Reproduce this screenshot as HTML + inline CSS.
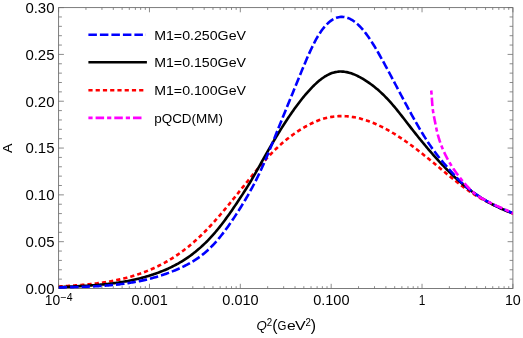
<!DOCTYPE html>
<html><head><meta charset="utf-8"><title>plot</title>
<style>html,body{margin:0;padding:0;background:#fff;}svg{display:block;will-change:transform;}</style>
</head><body>
<svg width="523" height="338" viewBox="0 0 523 338">
<rect width="523" height="338" fill="#fff"/>
<defs><clipPath id="c"><rect x="58.60" y="7.60" width="454.30" height="282.90"/></clipPath></defs>
<path d="M58.60 288.50h5.30M512.90 288.50h-5.30M58.60 279.14h3.30M512.90 279.14h-3.30M58.60 269.77h3.30M512.90 269.77h-3.30M58.60 260.41h3.30M512.90 260.41h-3.30M58.60 251.05h3.30M512.90 251.05h-3.30M58.60 241.68h5.30M512.90 241.68h-5.30M58.60 232.32h3.30M512.90 232.32h-3.30M58.60 222.96h3.30M512.90 222.96h-3.30M58.60 213.59h3.30M512.90 213.59h-3.30M58.60 204.23h3.30M512.90 204.23h-3.30M58.60 194.87h5.30M512.90 194.87h-5.30M58.60 185.50h3.30M512.90 185.50h-3.30M58.60 176.14h3.30M512.90 176.14h-3.30M58.60 166.78h3.30M512.90 166.78h-3.30M58.60 157.41h3.30M512.90 157.41h-3.30M58.60 148.05h5.30M512.90 148.05h-5.30M58.60 138.69h3.30M512.90 138.69h-3.30M58.60 129.32h3.30M512.90 129.32h-3.30M58.60 119.96h3.30M512.90 119.96h-3.30M58.60 110.60h3.30M512.90 110.60h-3.30M58.60 101.23h5.30M512.90 101.23h-5.30M58.60 91.87h3.30M512.90 91.87h-3.30M58.60 82.51h3.30M512.90 82.51h-3.30M58.60 73.14h3.30M512.90 73.14h-3.30M58.60 63.78h3.30M512.90 63.78h-3.30M58.60 54.42h5.30M512.90 54.42h-5.30M58.60 45.05h3.30M512.90 45.05h-3.30M58.60 35.69h3.30M512.90 35.69h-3.30M58.60 26.33h3.30M512.90 26.33h-3.30M58.60 16.96h3.30M512.90 16.96h-3.30M58.60 7.60h5.30M512.90 7.60h-5.30M58.60 288.50v-4.70M58.60 7.60v4.70M85.95 288.50v-2.30M85.95 7.60v2.30M101.95 288.50v-2.30M101.95 7.60v2.30M113.30 288.50v-2.30M113.30 7.60v2.30M122.11 288.50v-2.30M122.11 7.60v2.30M129.30 288.50v-2.30M129.30 7.60v2.30M135.39 288.50v-2.30M135.39 7.60v2.30M140.65 288.50v-2.30M140.65 7.60v2.30M145.30 288.50v-2.30M145.30 7.60v2.30M149.46 288.50v-4.70M149.46 7.60v4.70M176.81 288.50v-2.30M176.81 7.60v2.30M192.81 288.50v-2.30M192.81 7.60v2.30M204.16 288.50v-2.30M204.16 7.60v2.30M212.97 288.50v-2.30M212.97 7.60v2.30M220.16 288.50v-2.30M220.16 7.60v2.30M226.25 288.50v-2.30M226.25 7.60v2.30M231.51 288.50v-2.30M231.51 7.60v2.30M236.16 288.50v-2.30M236.16 7.60v2.30M240.32 288.50v-4.70M240.32 7.60v4.70M267.67 288.50v-2.30M267.67 7.60v2.30M283.67 288.50v-2.30M283.67 7.60v2.30M295.02 288.50v-2.30M295.02 7.60v2.30M303.83 288.50v-2.30M303.83 7.60v2.30M311.02 288.50v-2.30M311.02 7.60v2.30M317.11 288.50v-2.30M317.11 7.60v2.30M322.37 288.50v-2.30M322.37 7.60v2.30M327.02 288.50v-2.30M327.02 7.60v2.30M331.18 288.50v-4.70M331.18 7.60v4.70M358.53 288.50v-2.30M358.53 7.60v2.30M374.53 288.50v-2.30M374.53 7.60v2.30M385.88 288.50v-2.30M385.88 7.60v2.30M394.69 288.50v-2.30M394.69 7.60v2.30M401.88 288.50v-2.30M401.88 7.60v2.30M407.97 288.50v-2.30M407.97 7.60v2.30M413.23 288.50v-2.30M413.23 7.60v2.30M417.88 288.50v-2.30M417.88 7.60v2.30M422.04 288.50v-4.70M422.04 7.60v4.70M449.39 288.50v-2.30M449.39 7.60v2.30M465.39 288.50v-2.30M465.39 7.60v2.30M476.74 288.50v-2.30M476.74 7.60v2.30M485.55 288.50v-2.30M485.55 7.60v2.30M492.74 288.50v-2.30M492.74 7.60v2.30M498.83 288.50v-2.30M498.83 7.60v2.30M504.09 288.50v-2.30M504.09 7.60v2.30M508.74 288.50v-2.30M508.74 7.60v2.30M512.90 288.50v-4.70M512.90 7.60v4.70" stroke="#6e6e6e" stroke-width="0.8" fill="none"/>
<rect x="58.60" y="7.60" width="454.30" height="280.90" fill="none" stroke="#6e6e6e" stroke-width="0.9"/>
<g clip-path="url(#c)" fill="none" stroke-width="2.60">
<path d="M58.60 286.57 L59.74 286.50 L60.88 286.42 L62.02 286.35 L63.15 286.28 L64.29 286.21 L65.43 286.13 L66.57 286.06 L67.71 285.98 L68.85 285.91 L69.99 285.83 L71.12 285.75 L72.26 285.67 L73.40 285.59 L74.54 285.50 L75.68 285.42 L76.82 285.33 L77.96 285.24 L79.09 285.15 L80.23 285.06 L81.37 284.96 L82.51 284.87 L83.65 284.77 L84.79 284.66 L85.93 284.55 L87.06 284.45 L88.20 284.33 L89.34 284.22 L90.48 284.10 L91.62 283.97 L92.76 283.85 L93.90 283.72 L95.04 283.58 L96.17 283.44 L97.31 283.30 L98.45 283.15 L99.59 283.00 L100.73 282.85 L101.87 282.68 L103.01 282.52 L104.14 282.35 L105.28 282.17 L106.42 281.99 L107.56 281.80 L108.70 281.61 L109.84 281.42 L110.98 281.21 L112.11 281.00 L113.25 280.79 L114.39 280.57 L115.53 280.34 L116.67 280.10 L117.81 279.86 L118.95 279.62 L120.08 279.36 L121.22 279.10 L122.36 278.83 L123.50 278.56 L124.64 278.28 L125.78 277.99 L126.92 277.69 L128.05 277.38 L129.19 277.07 L130.33 276.75 L131.47 276.42 L132.61 276.08 L133.75 275.74 L134.89 275.38 L136.02 275.02 L137.16 274.65 L138.30 274.27 L139.44 273.88 L140.58 273.48 L141.72 273.07 L142.86 272.66 L143.99 272.23 L145.13 271.80 L146.27 271.35 L147.41 270.89 L148.55 270.43 L149.69 269.95 L150.83 269.47 L151.96 268.97 L153.10 268.46 L154.24 267.95 L155.38 267.42 L156.52 266.88 L157.66 266.33 L158.80 265.76 L159.94 265.19 L161.07 264.61 L162.21 264.01 L163.35 263.40 L164.49 262.78 L165.63 262.14 L166.77 261.50 L167.91 260.84 L169.04 260.17 L170.18 259.48 L171.32 258.79 L172.46 258.08 L173.60 257.35 L174.74 256.62 L175.88 255.86 L177.01 255.10 L178.15 254.32 L179.29 253.53 L180.43 252.72 L181.57 251.90 L182.71 251.06 L183.85 250.21 L184.98 249.34 L186.12 248.46 L187.26 247.56 L188.40 246.65 L189.54 245.72 L190.68 244.78 L191.82 243.82 L192.95 242.84 L194.09 241.85 L195.23 240.84 L196.37 239.82 L197.51 238.77 L198.65 237.72 L199.79 236.64 L200.92 235.55 L202.06 234.44 L203.20 233.31 L204.34 232.17 L205.48 231.02 L206.62 229.84 L207.76 228.66 L208.89 227.46 L210.03 226.24 L211.17 225.02 L212.31 223.78 L213.45 222.52 L214.59 221.26 L215.73 219.98 L216.86 218.69 L218.00 217.39 L219.14 216.08 L220.28 214.76 L221.42 213.43 L222.56 212.09 L223.70 210.74 L224.84 209.38 L225.97 208.01 L227.11 206.63 L228.25 205.25 L229.39 203.86 L230.53 202.47 L231.67 201.07 L232.81 199.66 L233.94 198.25 L235.08 196.83 L236.22 195.42 L237.36 194.00 L238.50 192.57 L239.64 191.15 L240.78 189.72 L241.91 188.30 L243.05 186.87 L244.19 185.45 L245.33 184.03 L246.47 182.61 L247.61 181.19 L248.75 179.77 L249.88 178.36 L251.02 176.95 L252.16 175.55 L253.30 174.16 L254.44 172.77 L255.58 171.38 L256.72 170.01 L257.85 168.64 L258.99 167.29 L260.13 165.95 L261.27 164.62 L262.41 163.30 L263.55 161.99 L264.69 160.71 L265.82 159.43 L266.96 158.18 L268.10 156.94 L269.24 155.72 L270.38 154.52 L271.52 153.34 L272.66 152.18 L273.79 151.04 L274.93 149.91 L276.07 148.81 L277.21 147.73 L278.35 146.66 L279.49 145.62 L280.63 144.59 L281.76 143.59 L282.90 142.60 L284.04 141.63 L285.18 140.68 L286.32 139.74 L287.46 138.83 L288.60 137.93 L289.74 137.05 L290.87 136.19 L292.01 135.35 L293.15 134.52 L294.29 133.71 L295.43 132.92 L296.57 132.14 L297.71 131.38 L298.84 130.63 L299.98 129.91 L301.12 129.19 L302.26 128.50 L303.40 127.82 L304.54 127.15 L305.68 126.50 L306.81 125.87 L307.95 125.25 L309.09 124.65 L310.23 124.07 L311.37 123.51 L312.51 122.96 L313.65 122.43 L314.78 121.93 L315.92 121.44 L317.06 120.97 L318.20 120.52 L319.34 120.09 L320.48 119.69 L321.62 119.30 L322.75 118.94 L323.89 118.60 L325.03 118.28 L326.17 117.99 L327.31 117.72 L328.45 117.47 L329.59 117.24 L330.72 117.03 L331.86 116.84 L333.00 116.68 L334.14 116.54 L335.28 116.41 L336.42 116.31 L337.56 116.23 L338.69 116.17 L339.83 116.13 L340.97 116.11 L342.11 116.10 L343.25 116.12 L344.39 116.16 L345.53 116.21 L346.66 116.29 L347.80 116.38 L348.94 116.50 L350.08 116.63 L351.22 116.78 L352.36 116.94 L353.50 117.13 L354.64 117.33 L355.77 117.55 L356.91 117.78 L358.05 118.04 L359.19 118.31 L360.33 118.59 L361.47 118.90 L362.61 119.22 L363.74 119.55 L364.88 119.90 L366.02 120.27 L367.16 120.65 L368.30 121.05 L369.44 121.46 L370.58 121.89 L371.71 122.33 L372.85 122.79 L373.99 123.26 L375.13 123.74 L376.27 124.24 L377.41 124.76 L378.55 125.28 L379.68 125.82 L380.82 126.37 L381.96 126.94 L383.10 127.52 L384.24 128.11 L385.38 128.71 L386.52 129.32 L387.65 129.95 L388.79 130.59 L389.93 131.24 L391.07 131.90 L392.21 132.57 L393.35 133.26 L394.49 133.95 L395.62 134.66 L396.76 135.37 L397.90 136.10 L399.04 136.83 L400.18 137.58 L401.32 138.33 L402.46 139.10 L403.59 139.87 L404.73 140.65 L405.87 141.45 L407.01 142.25 L408.15 143.05 L409.29 143.87 L410.43 144.70 L411.56 145.53 L412.70 146.37 L413.84 147.22 L414.98 148.07 L416.12 148.94 L417.26 149.80 L418.40 150.68 L419.54 151.56 L420.67 152.45 L421.81 153.35 L422.95 154.25 L424.09 155.16 L425.23 156.07 L426.37 156.99 L427.51 157.91 L428.64 158.84 L429.78 159.77 L430.92 160.70 L432.06 161.64 L433.20 162.58 L434.34 163.52 L435.48 164.47 L436.61 165.42 L437.75 166.36 L438.89 167.31 L440.03 168.26 L441.17 169.20 L442.31 170.15 L443.45 171.10 L444.58 172.04 L445.72 172.98 L446.86 173.92 L448.00 174.85 L449.14 175.78 L450.28 176.71 L451.42 177.63 L452.55 178.55 L453.69 179.46 L454.83 180.37 L455.97 181.26 L457.11 182.16 L458.25 183.04 L459.39 183.92 L460.52 184.79 L461.66 185.65 L462.80 186.50 L463.94 187.34 L465.08 188.17 L466.22 188.99 L467.36 189.80 L468.49 190.60 L469.63 191.39 L470.77 192.16 L471.91 192.92 L473.05 193.67 L474.19 194.41 L475.33 195.13 L476.46 195.83 L477.60 196.53 L478.74 197.20 L479.88 197.87 L481.02 198.52 L482.16 199.16 L483.30 199.79 L484.44 200.41 L485.57 201.02 L486.71 201.62 L487.85 202.21 L488.99 202.79 L490.13 203.36 L491.27 203.92 L492.41 204.48 L493.54 205.03 L494.68 205.57 L495.82 206.10 L496.96 206.63 L498.10 207.15 L499.24 207.67 L500.38 208.19 L501.51 208.70 L502.65 209.21 L503.79 209.71 L504.93 210.21 L506.07 210.71 L507.21 211.21 L508.35 211.71 L509.48 212.21 L510.62 212.71 L511.76 213.20 L512.90 213.70" stroke="#f00" stroke-dasharray="4.2 3.05"/>
<path d="M58.60 287.21 L59.74 287.15 L60.88 287.09 L62.02 287.03 L63.15 286.97 L64.29 286.92 L65.43 286.86 L66.57 286.80 L67.71 286.74 L68.85 286.69 L69.99 286.63 L71.12 286.58 L72.26 286.52 L73.40 286.46 L74.54 286.40 L75.68 286.34 L76.82 286.29 L77.96 286.23 L79.09 286.16 L80.23 286.10 L81.37 286.04 L82.51 285.97 L83.65 285.91 L84.79 285.84 L85.93 285.77 L87.06 285.70 L88.20 285.63 L89.34 285.55 L90.48 285.48 L91.62 285.40 L92.76 285.31 L93.90 285.23 L95.04 285.14 L96.17 285.05 L97.31 284.96 L98.45 284.87 L99.59 284.77 L100.73 284.67 L101.87 284.56 L103.01 284.45 L104.14 284.34 L105.28 284.22 L106.42 284.11 L107.56 283.98 L108.70 283.85 L109.84 283.72 L110.98 283.59 L112.11 283.45 L113.25 283.30 L114.39 283.15 L115.53 283.00 L116.67 282.84 L117.81 282.67 L118.95 282.51 L120.08 282.33 L121.22 282.15 L122.36 281.97 L123.50 281.78 L124.64 281.58 L125.78 281.38 L126.92 281.17 L128.05 280.95 L129.19 280.73 L130.33 280.51 L131.47 280.27 L132.61 280.03 L133.75 279.79 L134.89 279.53 L136.02 279.27 L137.16 279.01 L138.30 278.73 L139.44 278.45 L140.58 278.16 L141.72 277.87 L142.86 277.56 L143.99 277.25 L145.13 276.93 L146.27 276.61 L147.41 276.27 L148.55 275.93 L149.69 275.58 L150.83 275.22 L151.96 274.85 L153.10 274.47 L154.24 274.08 L155.38 273.69 L156.52 273.28 L157.66 272.87 L158.80 272.45 L159.94 272.02 L161.07 271.57 L162.21 271.12 L163.35 270.66 L164.49 270.19 L165.63 269.70 L166.77 269.20 L167.91 268.70 L169.04 268.17 L170.18 267.64 L171.32 267.09 L172.46 266.53 L173.60 265.96 L174.74 265.37 L175.88 264.77 L177.01 264.15 L178.15 263.52 L179.29 262.87 L180.43 262.20 L181.57 261.52 L182.71 260.82 L183.85 260.11 L184.98 259.38 L186.12 258.63 L187.26 257.86 L188.40 257.07 L189.54 256.27 L190.68 255.44 L191.82 254.60 L192.95 253.74 L194.09 252.85 L195.23 251.95 L196.37 251.02 L197.51 250.08 L198.65 249.11 L199.79 248.12 L200.92 247.11 L202.06 246.07 L203.20 245.01 L204.34 243.93 L205.48 242.82 L206.62 241.70 L207.76 240.54 L208.89 239.36 L210.03 238.16 L211.17 236.93 L212.31 235.67 L213.45 234.39 L214.59 233.08 L215.73 231.75 L216.86 230.38 L218.00 229.00 L219.14 227.58 L220.28 226.15 L221.42 224.69 L222.56 223.20 L223.70 221.70 L224.84 220.17 L225.97 218.63 L227.11 217.06 L228.25 215.48 L229.39 213.88 L230.53 212.26 L231.67 210.63 L232.81 208.98 L233.94 207.32 L235.08 205.64 L236.22 203.95 L237.36 202.25 L238.50 200.54 L239.64 198.82 L240.78 197.08 L241.91 195.34 L243.05 193.59 L244.19 191.83 L245.33 190.05 L246.47 188.25 L247.61 186.43 L248.75 184.59 L249.88 182.72 L251.02 180.83 L252.16 178.91 L253.30 176.95 L254.44 174.97 L255.58 172.96 L256.72 170.94 L257.85 168.90 L258.99 166.85 L260.13 164.80 L261.27 162.75 L262.41 160.71 L263.55 158.68 L264.69 156.66 L265.82 154.65 L266.96 152.65 L268.10 150.66 L269.24 148.68 L270.38 146.72 L271.52 144.77 L272.66 142.83 L273.79 140.90 L274.93 138.99 L276.07 137.09 L277.21 135.21 L278.35 133.35 L279.49 131.50 L280.63 129.66 L281.76 127.85 L282.90 126.05 L284.04 124.27 L285.18 122.50 L286.32 120.76 L287.46 119.03 L288.60 117.33 L289.74 115.64 L290.87 113.98 L292.01 112.33 L293.15 110.71 L294.29 109.11 L295.43 107.53 L296.57 105.98 L297.71 104.45 L298.84 102.94 L299.98 101.46 L301.12 100.00 L302.26 98.56 L303.40 97.16 L304.54 95.77 L305.68 94.42 L306.81 93.09 L307.95 91.79 L309.09 90.52 L310.23 89.28 L311.37 88.07 L312.51 86.90 L313.65 85.76 L314.78 84.65 L315.92 83.58 L317.06 82.55 L318.20 81.55 L319.34 80.60 L320.48 79.69 L321.62 78.82 L322.75 77.99 L323.89 77.21 L325.03 76.47 L326.17 75.79 L327.31 75.15 L328.45 74.56 L329.59 74.02 L330.72 73.53 L331.86 73.10 L333.00 72.72 L334.14 72.39 L335.28 72.12 L336.42 71.91 L337.56 71.74 L338.69 71.63 L339.83 71.56 L340.97 71.55 L342.11 71.58 L343.25 71.65 L344.39 71.77 L345.53 71.93 L346.66 72.14 L347.80 72.38 L348.94 72.67 L350.08 72.99 L351.22 73.35 L352.36 73.74 L353.50 74.17 L354.64 74.64 L355.77 75.13 L356.91 75.65 L358.05 76.21 L359.19 76.79 L360.33 77.40 L361.47 78.04 L362.61 78.69 L363.74 79.38 L364.88 80.08 L366.02 80.81 L367.16 81.56 L368.30 82.33 L369.44 83.13 L370.58 83.94 L371.71 84.79 L372.85 85.65 L373.99 86.54 L375.13 87.46 L376.27 88.40 L377.41 89.36 L378.55 90.35 L379.68 91.36 L380.82 92.40 L381.96 93.47 L383.10 94.56 L384.24 95.68 L385.38 96.82 L386.52 97.99 L387.65 99.19 L388.79 100.41 L389.93 101.66 L391.07 102.94 L392.21 104.24 L393.35 105.57 L394.49 106.92 L395.62 108.29 L396.76 109.68 L397.90 111.08 L399.04 112.50 L400.18 113.94 L401.32 115.38 L402.46 116.83 L403.59 118.30 L404.73 119.76 L405.87 121.23 L407.01 122.71 L408.15 124.18 L409.29 125.65 L410.43 127.12 L411.56 128.58 L412.70 130.04 L413.84 131.49 L414.98 132.93 L416.12 134.36 L417.26 135.79 L418.40 137.21 L419.54 138.61 L420.67 140.01 L421.81 141.41 L422.95 142.79 L424.09 144.16 L425.23 145.53 L426.37 146.88 L427.51 148.23 L428.64 149.56 L429.78 150.89 L430.92 152.21 L432.06 153.51 L433.20 154.81 L434.34 156.09 L435.48 157.37 L436.61 158.63 L437.75 159.88 L438.89 161.12 L440.03 162.35 L441.17 163.57 L442.31 164.78 L443.45 165.97 L444.58 167.16 L445.72 168.33 L446.86 169.49 L448.00 170.63 L449.14 171.76 L450.28 172.88 L451.42 173.99 L452.55 175.08 L453.69 176.17 L454.83 177.23 L455.97 178.29 L457.11 179.33 L458.25 180.35 L459.39 181.36 L460.52 182.36 L461.66 183.34 L462.80 184.31 L463.94 185.26 L465.08 186.20 L466.22 187.12 L467.36 188.03 L468.49 188.92 L469.63 189.80 L470.77 190.66 L471.91 191.50 L473.05 192.33 L474.19 193.15 L475.33 193.95 L476.46 194.74 L477.60 195.51 L478.74 196.27 L479.88 197.02 L481.02 197.75 L482.16 198.47 L483.30 199.17 L484.44 199.86 L485.57 200.54 L486.71 201.20 L487.85 201.86 L488.99 202.49 L490.13 203.12 L491.27 203.74 L492.41 204.34 L493.54 204.93 L494.68 205.51 L495.82 206.07 L496.96 206.63 L498.10 207.17 L499.24 207.71 L500.38 208.23 L501.51 208.74 L502.65 209.24 L503.79 209.73 L504.93 210.21 L506.07 210.68 L507.21 211.14 L508.35 211.59 L509.48 212.02 L510.62 212.45 L511.76 212.88 L512.90 213.29" stroke="#000"/>
<path d="M58.60 287.51 L59.74 287.47 L60.88 287.44 L62.02 287.41 L63.15 287.38 L64.29 287.35 L65.43 287.32 L66.57 287.29 L67.71 287.26 L68.85 287.23 L69.99 287.20 L71.12 287.16 L72.26 287.13 L73.40 287.10 L74.54 287.07 L75.68 287.04 L76.82 287.00 L77.96 286.97 L79.09 286.93 L80.23 286.90 L81.37 286.86 L82.51 286.82 L83.65 286.78 L84.79 286.74 L85.93 286.70 L87.06 286.65 L88.20 286.61 L89.34 286.56 L90.48 286.51 L91.62 286.46 L92.76 286.40 L93.90 286.35 L95.04 286.29 L96.17 286.23 L97.31 286.16 L98.45 286.10 L99.59 286.03 L100.73 285.96 L101.87 285.88 L103.01 285.80 L104.14 285.72 L105.28 285.64 L106.42 285.55 L107.56 285.46 L108.70 285.37 L109.84 285.27 L110.98 285.17 L112.11 285.06 L113.25 284.95 L114.39 284.84 L115.53 284.72 L116.67 284.60 L117.81 284.47 L118.95 284.34 L120.08 284.20 L121.22 284.06 L122.36 283.92 L123.50 283.77 L124.64 283.62 L125.78 283.46 L126.92 283.29 L128.05 283.12 L129.19 282.95 L130.33 282.77 L131.47 282.58 L132.61 282.39 L133.75 282.19 L134.89 281.99 L136.02 281.78 L137.16 281.56 L138.30 281.34 L139.44 281.11 L140.58 280.88 L141.72 280.64 L142.86 280.39 L143.99 280.14 L145.13 279.88 L146.27 279.61 L147.41 279.34 L148.55 279.06 L149.69 278.77 L150.83 278.47 L151.96 278.17 L153.10 277.86 L154.24 277.54 L155.38 277.22 L156.52 276.89 L157.66 276.55 L158.80 276.20 L159.94 275.84 L161.07 275.48 L162.21 275.10 L163.35 274.72 L164.49 274.33 L165.63 273.93 L166.77 273.53 L167.91 273.11 L169.04 272.69 L170.18 272.25 L171.32 271.81 L172.46 271.36 L173.60 270.90 L174.74 270.43 L175.88 269.95 L177.01 269.46 L178.15 268.96 L179.29 268.45 L180.43 267.94 L181.57 267.41 L182.71 266.87 L183.85 266.31 L184.98 265.75 L186.12 265.17 L187.26 264.57 L188.40 263.96 L189.54 263.33 L190.68 262.68 L191.82 262.02 L192.95 261.33 L194.09 260.62 L195.23 259.90 L196.37 259.15 L197.51 258.37 L198.65 257.57 L199.79 256.75 L200.92 255.90 L202.06 255.02 L203.20 254.12 L204.34 253.19 L205.48 252.22 L206.62 251.23 L207.76 250.20 L208.89 249.15 L210.03 248.05 L211.17 246.93 L212.31 245.77 L213.45 244.57 L214.59 243.34 L215.73 242.08 L216.86 240.79 L218.00 239.46 L219.14 238.10 L220.28 236.71 L221.42 235.29 L222.56 233.84 L223.70 232.36 L224.84 230.85 L225.97 229.32 L227.11 227.76 L228.25 226.17 L229.39 224.56 L230.53 222.92 L231.67 221.26 L232.81 219.58 L233.94 217.88 L235.08 216.15 L236.22 214.40 L237.36 212.63 L238.50 210.84 L239.64 209.04 L240.78 207.21 L241.91 205.37 L243.05 203.50 L244.19 201.62 L245.33 199.71 L246.47 197.78 L247.61 195.81 L248.75 193.82 L249.88 191.79 L251.02 189.73 L252.16 187.63 L253.30 185.50 L254.44 183.32 L255.58 181.10 L256.72 178.83 L257.85 176.51 L258.99 174.15 L260.13 171.74 L261.27 169.28 L262.41 166.78 L263.55 164.23 L264.69 161.64 L265.82 159.01 L266.96 156.34 L268.10 153.64 L269.24 150.91 L270.38 148.15 L271.52 145.37 L272.66 142.57 L273.79 139.75 L274.93 136.92 L276.07 134.09 L277.21 131.25 L278.35 128.41 L279.49 125.57 L280.63 122.74 L281.76 119.91 L282.90 117.09 L284.04 114.28 L285.18 111.47 L286.32 108.66 L287.46 105.86 L288.60 103.06 L289.74 100.27 L290.87 97.48 L292.01 94.69 L293.15 91.89 L294.29 89.10 L295.43 86.31 L296.57 83.52 L297.71 80.73 L298.84 77.94 L299.98 75.15 L301.12 72.37 L302.26 69.60 L303.40 66.86 L304.54 64.14 L305.68 61.45 L306.81 58.80 L307.95 56.20 L309.09 53.65 L310.23 51.16 L311.37 48.72 L312.51 46.36 L313.65 44.07 L314.78 41.86 L315.92 39.74 L317.06 37.71 L318.20 35.77 L319.34 33.94 L320.48 32.21 L321.62 30.57 L322.75 29.03 L323.89 27.59 L325.03 26.24 L326.17 24.99 L327.31 23.83 L328.45 22.77 L329.59 21.79 L330.72 20.91 L331.86 20.12 L333.00 19.41 L334.14 18.80 L335.28 18.27 L336.42 17.83 L337.56 17.47 L338.69 17.20 L339.83 17.01 L340.97 16.90 L342.11 16.88 L343.25 16.94 L344.39 17.08 L345.53 17.29 L346.66 17.59 L347.80 17.96 L348.94 18.41 L350.08 18.94 L351.22 19.54 L352.36 20.21 L353.50 20.95 L354.64 21.77 L355.77 22.66 L356.91 23.62 L358.05 24.64 L359.19 25.73 L360.33 26.89 L361.47 28.12 L362.61 29.41 L363.74 30.76 L364.88 32.17 L366.02 33.64 L367.16 35.18 L368.30 36.77 L369.44 38.42 L370.58 40.13 L371.71 41.88 L372.85 43.68 L373.99 45.53 L375.13 47.41 L376.27 49.33 L377.41 51.28 L378.55 53.25 L379.68 55.25 L380.82 57.27 L381.96 59.31 L383.10 61.37 L384.24 63.44 L385.38 65.53 L386.52 67.63 L387.65 69.74 L388.79 71.86 L389.93 73.99 L391.07 76.13 L392.21 78.27 L393.35 80.42 L394.49 82.58 L395.62 84.73 L396.76 86.89 L397.90 89.04 L399.04 91.20 L400.18 93.35 L401.32 95.50 L402.46 97.65 L403.59 99.79 L404.73 101.92 L405.87 104.05 L407.01 106.17 L408.15 108.27 L409.29 110.37 L410.43 112.45 L411.56 114.52 L412.70 116.58 L413.84 118.62 L414.98 120.64 L416.12 122.65 L417.26 124.63 L418.40 126.60 L419.54 128.54 L420.67 130.46 L421.81 132.36 L422.95 134.23 L424.09 136.08 L425.23 137.90 L426.37 139.68 L427.51 141.44 L428.64 143.17 L429.78 144.86 L430.92 146.53 L432.06 148.15 L433.20 149.74 L434.34 151.30 L435.48 152.82 L436.61 154.31 L437.75 155.77 L438.89 157.20 L440.03 158.61 L441.17 160.00 L442.31 161.37 L443.45 162.72 L444.58 164.06 L445.72 165.39 L446.86 166.72 L448.00 168.03 L449.14 169.34 L450.28 170.63 L451.42 171.92 L452.55 173.18 L453.69 174.43 L454.83 175.67 L455.97 176.88 L457.11 178.07 L458.25 179.24 L459.39 180.39 L460.52 181.51 L461.66 182.60 L462.80 183.67 L463.94 184.71 L465.08 185.73 L466.22 186.72 L467.36 187.69 L468.49 188.63 L469.63 189.56 L470.77 190.46 L471.91 191.34 L473.05 192.20 L474.19 193.04 L475.33 193.86 L476.46 194.66 L477.60 195.44 L478.74 196.20 L479.88 196.94 L481.02 197.67 L482.16 198.38 L483.30 199.07 L484.44 199.75 L485.57 200.41 L486.71 201.06 L487.85 201.70 L488.99 202.32 L490.13 202.92 L491.27 203.52 L492.41 204.10 L493.54 204.67 L494.68 205.23 L495.82 205.78 L496.96 206.32 L498.10 206.86 L499.24 207.38 L500.38 207.89 L501.51 208.40 L502.65 208.90 L503.79 209.39 L504.93 209.87 L506.07 210.35 L507.21 210.83 L508.35 211.30 L509.48 211.77 L510.62 212.23 L511.76 212.69 L512.90 213.15" stroke="#00f" stroke-dasharray="8.5 3"/>
<path d="M431.20 90.50 L431.27 91.12 L431.34 91.74 L431.40 92.36 L431.46 92.97 L431.52 93.59 L431.57 94.21 L431.62 94.83 L431.67 95.45 L431.72 96.07 L431.76 96.69 L431.81 97.30 L431.85 97.92 L431.89 98.54 L431.93 99.16 L431.97 99.78 L432.01 100.40 L432.05 101.02 L432.09 101.63 L432.14 102.25 L432.18 102.87 L432.22 103.49 L432.27 104.11 L432.32 104.73 L432.37 105.35 L432.42 105.96 L432.48 106.58 L432.54 107.20 L432.61 107.82 L432.67 108.44 L432.74 109.06 L432.82 109.68 L432.90 110.29 L432.99 110.91 L433.08 111.53 L433.18 112.15 L433.28 112.77 L433.38 113.39 L433.49 114.01 L433.60 114.63 L433.72 115.24 L433.84 115.86 L433.96 116.48 L434.08 117.10 L434.20 117.72 L434.33 118.34 L434.45 118.96 L434.57 119.57 L434.70 120.19 L434.82 120.81 L434.94 121.43 L435.07 122.05 L435.19 122.67 L435.31 123.29 L435.43 123.90 L435.55 124.52 L435.67 125.14 L435.79 125.76 L435.92 126.38 L436.04 127.00 L436.17 127.62 L436.30 128.23 L436.43 128.85 L436.56 129.47 L436.70 130.09 L436.84 130.71 L436.98 131.33 L437.13 131.95 L437.28 132.56 L437.43 133.18 L437.59 133.80 L437.75 134.42 L437.92 135.04 L438.09 135.66 L438.26 136.28 L438.44 136.89 L438.62 137.51 L438.81 138.13 L439.00 138.75 L439.19 139.37 L439.39 139.99 L439.59 140.61 L439.80 141.22 L440.01 141.84 L440.23 142.46 L440.45 143.08 L440.67 143.70 L440.90 144.32 L441.13 144.94 L441.37 145.55 L441.61 146.17 L441.85 146.79 L442.10 147.41 L442.35 148.03 L442.61 148.65 L442.87 149.27 L443.13 149.88 L443.40 150.50 L443.67 151.12 L443.95 151.74 L444.23 152.36 L444.51 152.98 L444.80 153.60 L445.10 154.22 L445.40 154.83 L445.70 155.45 L446.01 156.07 L446.32 156.69 L446.64 157.31 L446.96 157.93 L447.29 158.55 L447.62 159.16 L447.96 159.78 L448.31 160.40 L448.66 161.02 L449.01 161.64 L449.38 162.26 L449.74 162.88 L450.11 163.49 L450.49 164.11 L450.87 164.73 L451.25 165.35 L451.64 165.97 L452.03 166.59 L452.43 167.21 L452.84 167.82 L453.24 168.44 L453.66 169.06 L454.08 169.68 L454.50 170.30 L454.93 170.92 L455.36 171.54 L455.80 172.15 L456.24 172.77 L456.69 173.39 L457.15 174.01 L457.61 174.63 L458.07 175.25 L458.54 175.87 L459.02 176.48 L459.50 177.10 L459.98 177.72 L460.47 178.34 L460.96 178.96 L461.46 179.58 L461.96 180.20 L462.47 180.81 L462.98 181.43 L463.50 182.05 L464.02 182.67 L464.55 183.29 L465.08 183.91 L465.61 184.53 L466.15 185.14 L466.70 185.76 L467.26 186.38 L467.83 187.00 L468.41 187.62 L469.00 188.24 L469.60 188.86 L470.21 189.47 L470.84 190.09 L471.48 190.71 L472.14 191.33 L472.82 191.95 L473.52 192.57 L474.24 193.19 L475.00 193.81 L475.79 194.42 L476.63 195.04 L477.51 195.66 L478.44 196.28 L479.43 196.90 L480.48 197.52 L481.58 198.14 L482.72 198.75 L483.88 199.37 L485.07 199.99 L486.25 200.61 L487.43 201.23 L488.61 201.85 L489.78 202.47 L490.96 203.08 L492.17 203.70 L493.41 204.32 L494.69 204.94 L496.03 205.56 L497.40 206.18 L498.80 206.80 L500.22 207.41 L501.64 208.03 L503.07 208.65 L504.48 209.27 L505.87 209.89 L507.25 210.51 L508.61 211.13 L509.93 211.74 L511.23 212.36 L512.49 212.98 L513.70 213.60" stroke="#f0f" stroke-dasharray="4.2 3 8.5 3"/>
</g>
<g fill="none" stroke-width="2.60">
<path d="M88.40 34.70H146.00" stroke="#00f" stroke-dasharray="8.5 3"/>
<path d="M88.40 62.30H146.90" stroke="#000"/>
<path d="M88.40 90.25H146.30" stroke="#f00" stroke-dasharray="4.2 3.05"/>
<path d="M88.40 117.90H144.30" stroke="#f0f" stroke-dasharray="4.2 3 8.5 3"/>
</g>
<g font-family="'Liberation Sans', sans-serif" fill="#000">
<text x="154.20" y="39.80" font-size="13.40" text-anchor="start" textLength="91.80" lengthAdjust="spacingAndGlyphs">M1=0.250GeV</text>
<text x="154.20" y="67.40" font-size="13.40" text-anchor="start" textLength="91.80" lengthAdjust="spacingAndGlyphs">M1=0.150GeV</text>
<text x="154.20" y="95.35" font-size="13.40" text-anchor="start" textLength="91.80" lengthAdjust="spacingAndGlyphs">M1=0.100GeV</text>
<text x="154.20" y="123.00" font-size="13.40" text-anchor="start" textLength="68.80" lengthAdjust="spacingAndGlyphs">pQCD(MM)</text>
<text x="25.40" y="293.80" font-size="14.60" text-anchor="start" textLength="29.10" lengthAdjust="spacingAndGlyphs">0.00</text>
<text x="25.40" y="246.98" font-size="14.60" text-anchor="start" textLength="29.10" lengthAdjust="spacingAndGlyphs">0.05</text>
<text x="25.40" y="200.17" font-size="14.60" text-anchor="start" textLength="29.10" lengthAdjust="spacingAndGlyphs">0.10</text>
<text x="25.40" y="153.35" font-size="14.60" text-anchor="start" textLength="29.10" lengthAdjust="spacingAndGlyphs">0.15</text>
<text x="25.40" y="106.53" font-size="14.60" text-anchor="start" textLength="29.10" lengthAdjust="spacingAndGlyphs">0.20</text>
<text x="25.40" y="59.72" font-size="14.60" text-anchor="start" textLength="29.10" lengthAdjust="spacingAndGlyphs">0.25</text>
<text x="25.40" y="12.90" font-size="14.60" text-anchor="start" textLength="29.10" lengthAdjust="spacingAndGlyphs">0.30</text>
<text x="131.46" y="305.30" font-size="14.60" text-anchor="start" textLength="36.30" lengthAdjust="spacingAndGlyphs">0.001</text>
<text x="222.32" y="305.30" font-size="14.60" text-anchor="start" textLength="36.30" lengthAdjust="spacingAndGlyphs">0.010</text>
<text x="313.18" y="305.30" font-size="14.60" text-anchor="start" textLength="36.30" lengthAdjust="spacingAndGlyphs">0.100</text>
<text x="418.80" y="305.30" font-size="14.60" text-anchor="start" textLength="6.60" lengthAdjust="spacingAndGlyphs">1</text>
<text x="504.90" y="305.30" font-size="14.60" text-anchor="start" textLength="15.90" lengthAdjust="spacingAndGlyphs">10</text>
<text x="44.80" y="305.30" font-size="14.60" text-anchor="start" textLength="15.40" lengthAdjust="spacingAndGlyphs">10</text>
<text x="60.50" y="300.60" font-size="10.20" text-anchor="start" textLength="12.00" lengthAdjust="spacingAndGlyphs">−4</text>
<text transform="translate(12.1 153.0) rotate(-90)" font-size="12.7" textLength="9.5" lengthAdjust="spacingAndGlyphs">A</text>
<text x="256.6" y="329.85" font-size="13.4" font-style="italic" textLength="10.3" lengthAdjust="spacingAndGlyphs">Q</text><text x="266.8" y="325.5" font-size="10.2" textLength="5.4" lengthAdjust="spacingAndGlyphs">2</text><text x="272.3" y="331.3" font-size="15.8">(</text><text x="277.5" y="329.85" font-size="13.4" textLength="8.9" lengthAdjust="spacingAndGlyphs">G</text><text x="286.95" y="329.85" font-size="13.4" textLength="8.7" lengthAdjust="spacingAndGlyphs">e</text><text x="295.0" y="329.85" font-size="13.4" textLength="10.7" lengthAdjust="spacingAndGlyphs">V</text><text x="305.4" y="325.5" font-size="10.2" textLength="5.4" lengthAdjust="spacingAndGlyphs">2</text><text x="310.8" y="331.3" font-size="15.8">)</text>
</g>
</svg>
</body></html>
